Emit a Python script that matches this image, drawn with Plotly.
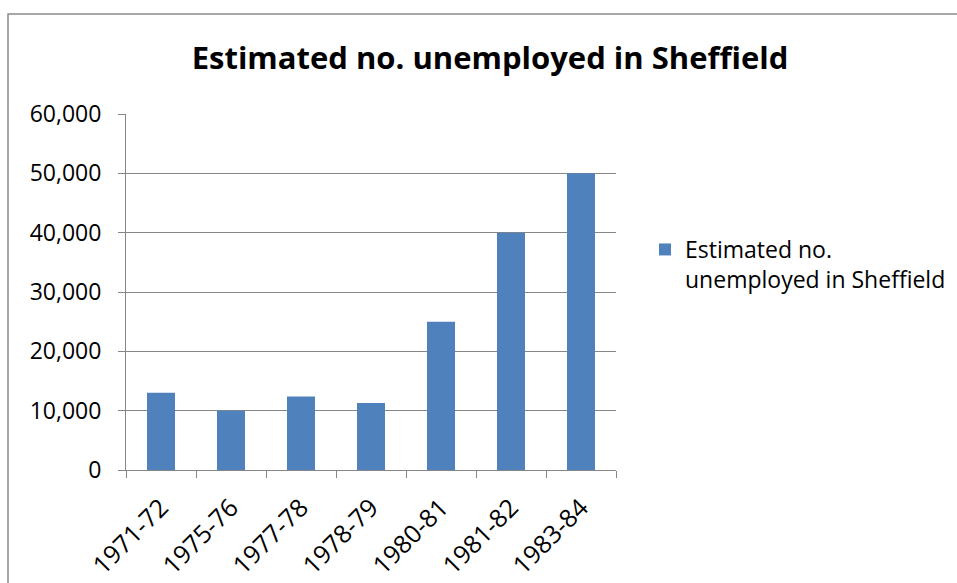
import plotly.graph_objects as go

categories = ["1971-72", "1975-76", "1977-78", "1978-79", "1980-81", "1981-82", "1983-84"]
values = [13000, 10000, 12400, 11300, 25000, 40000, 50000]
series_name = "Estimated no.<br>unemployed in Sheffield"
title_text = "Estimated no. unemployed in Sheffield"

W, H = 957, 583
L, R, T, B = 126, 616, 114, 470
pw, ph = R - L, B - T

fig = go.Figure()
fig.add_trace(go.Bar(x=categories, y=values, name=series_name,
                     marker=dict(color="#4F81BD", line=dict(width=0)),
                     showlegend=True))

font = "Open Sans, Liberation Sans, sans-serif"
fig.update_layout(
    width=W, height=H,
    margin=dict(l=L, r=W - R, t=T, b=H - B, pad=0, autoexpand=False),
    paper_bgcolor="white", plot_bgcolor="white",
    bargap=0.6,
    font=dict(family=font, size=22, color="black"),
    title=dict(text="<b>" + title_text + "</b>", x=490 / W, xref="container", xanchor="center",
               y=1 - 58 / H, yref="container", yanchor="middle",
               font=dict(family=font, size=31, color="black")),
    showlegend=True,
    legend=dict(x=(645 - L) / pw, xanchor="left", y=(B - 228) / ph, yanchor="top",
                font=dict(family=font, size=23, color="black"), valign="top",
                itemsizing="constant", bgcolor="rgba(0,0,0,0)"),
    xaxis=dict(showline=True, linecolor="#868686", linewidth=1, ticks="outside", ticklen=7,
               tickcolor="#868686", tickson="boundaries", tickangle=-45, automargin=False,
               ticklabelstandoff=12,
               showgrid=False, tickfont=dict(family=font, size=25, color="black")),
    yaxis=dict(range=[0, 60000], dtick=10000, tickformat=",", showline=True, linecolor="#868686",
               linewidth=1, ticks="outside", ticklen=7, tickcolor="#868686",
               ticklabelstandoff=12, automargin=False,
               showgrid=True, gridcolor="#868686", gridwidth=1, zeroline=False,
               tickfont=dict(family=font, size=23, color="black")),
)

# outer chart border
fig.add_shape(type="rect", xref="paper", yref="paper",
              x0=(8 - L) / pw, x1=(W + 20 - L) / pw,
              y0=(B - (H + 20)) / ph, y1=(B - 14) / ph,
              line=dict(color="#8c8c8c", width=1.5), fillcolor="rgba(0,0,0,0)", layer="below")

fig.write_html("out.html", config={"displayModeBar": False},
               post_script="document.body.style.margin='0px';document.body.style.overflow='hidden';")
